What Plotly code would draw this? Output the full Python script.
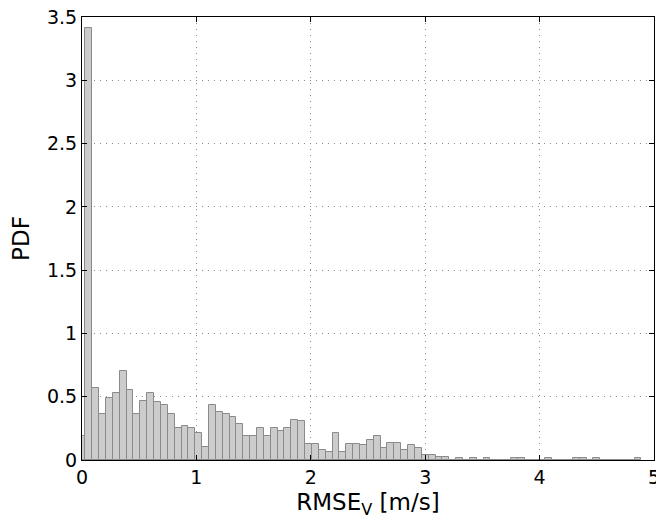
import plotly.graph_objects as go

bin_width = 0.06
pdf_values = [
    0.19, 3.41, 0.565, 0.36, 0.49, 0.53, 0.70, 0.55, 0.36, 0.47,
    0.53, 0.455, 0.435, 0.36, 0.25, 0.265, 0.25, 0.21, 0.10, 0.435,
    0.38, 0.36, 0.34, 0.285, 0.19, 0.19, 0.25, 0.19, 0.25, 0.23,
    0.25, 0.32, 0.305, 0.13, 0.13, 0.08, 0.06, 0.21, 0.06, 0.13,
    0.13, 0.115, 0.155, 0.19, 0.095, 0.135, 0.135, 0.08, 0.115, 0.095,
    0.042, 0.042, 0.021, 0.021, 0.0, 0.018, 0.0, 0.018, 0.0, 0.018,
    0.0, 0.0, 0.0, 0.016, 0.016, 0.0, 0.0, 0.0, 0.016, 0.0,
    0.0, 0.0, 0.016, 0.016, 0.0, 0.016, 0.0, 0.0, 0.0, 0.0,
    0.0, 0.016,
]
bin_centers = [k * bin_width for k in range(len(pdf_values))]

x_ticks = [0, 1, 2, 3, 4, 5]
x_tick_labels = ["0", "1", "2", "3", "4", "5"]
y_ticks = [0, 0.5, 1, 1.5, 2, 2.5, 3, 3.5]
y_tick_labels = ["0", "0.5", "1", "1.5", "2", "2.5", "3", "3.5"]

fig = go.Figure()
fig.add_trace(go.Bar(
    x=bin_centers,
    y=pdf_values,
    width=bin_width,
    marker=dict(color="#cccccc", line=dict(color="#8a8a8a", width=1)),
    showlegend=False,
))

font_family = "DejaVu Sans, Liberation Sans, Arial, sans-serif"
grid_style = dict(showgrid=True, gridcolor="#8c8c8c", griddash="1px,5px", gridwidth=1)
axis_style = dict(
    ticks="inside",
    ticklen=5,
    tickcolor="black",
    showline=True,
    linecolor="black",
    linewidth=1,
    mirror="ticks",
    zeroline=False,
    ticklabeloverflow="allow",
    automargin=False,
)
fig.update_layout(
    width=656,
    height=511,
    margin=dict(l=74, r=10, t=9, b=59),
    paper_bgcolor="white",
    plot_bgcolor="white",
    bargap=0,
    font=dict(family=font_family, size=19, color="black"),
    xaxis=dict(
        range=[0, 5],
        tickvals=x_ticks,
        ticktext=x_tick_labels,
        title=dict(text="RMSE<sub>V</sub> [m/s]", standoff=9),
        **axis_style,
        **grid_style,
    ),
    yaxis=dict(
        range=[0, 3.5],
        tickvals=y_ticks,
        ticktext=y_tick_labels,
        title=dict(text="PDF", standoff=10),
        **axis_style,
        **grid_style,
    ),
)

fig.write_html("out.html")
